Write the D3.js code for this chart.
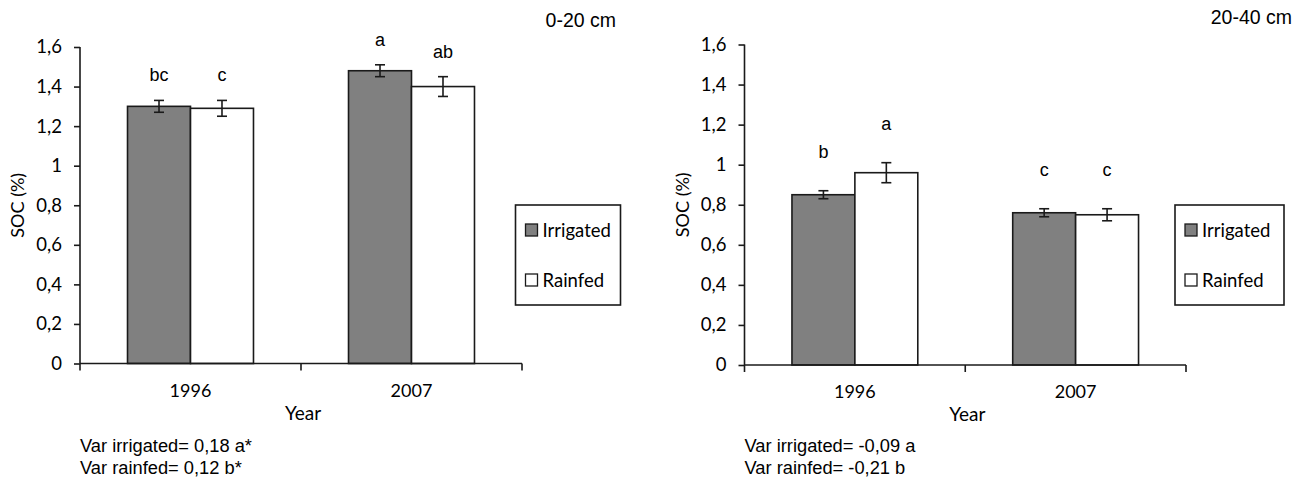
<!DOCTYPE html>
<html>
<head>
<meta charset="utf-8">
<script src="https://cdn.jsdelivr.net/npm/d3@7"></script>
<style>
  body { margin: 0; background: #fff; }
  .cal { font-family: Lato, "Open Sans", sans-serif; }
  .ari { font-family: "Liberation Sans", Arial, sans-serif; }
</style>
</head>
<body>
<svg id="chart" width="1301" height="477"></svg>
<script>
// data
const years = ['1996', '2007'];
const seriesNames = ['Irrigated', 'Rainfed'];
const yTicks = [0, 0.2, 0.4, 0.6, 0.8, 1, 1.2, 1.4, 1.6];

// 0-20 cm
const shallowIrrigated = [1.30, 1.48];
const shallowIrrigatedErr = [0.03, 0.03];
const shallowRainfed = [1.29, 1.40];
const shallowRainfedErr = [0.04, 0.05];
const shallowLetters = [['bc', 'a'], ['c', 'ab']];
const shallowNotes = ['Var irrigated= 0,18 a*', 'Var rainfed= 0,12 b*'];

// 20-40 cm
const deepIrrigated = [0.85, 0.76];
const deepIrrigatedErr = [0.02, 0.02];
const deepRainfed = [0.96, 0.75];
const deepRainfedErr = [0.05, 0.03];
const deepLetters = [['b', 'c'], ['a', 'c']];
const deepNotes = ['Var irrigated= -0,09 a', 'Var rainfed= -0,21 b'];

const svg = d3.select('#chart');
const fmt = v => String(v).replace('.', ',');
const ink = '#1a1a1a';

function panel(opt) {
  const g = svg.append('g');
  const x = d3.scaleBand().domain(years).range([opt.left, opt.right])
    .paddingInner(0.43).paddingOuter(0.215);
  const xs = d3.scaleBand().domain(seriesNames).range([0, x.bandwidth()]);
  const y = d3.scaleLinear().domain([0, 1.6]).range([opt.bottom, opt.top]);

  const rows = [];
  years.forEach((yr, i) => {
    rows.push({ yr: yr, s: 'Irrigated', v: opt.irr[i], e: opt.irrErr[i], l: opt.letters[0][i] });
    rows.push({ yr: yr, s: 'Rainfed', v: opt.rain[i], e: opt.rainErr[i], l: opt.letters[1][i] });
  });

  g.selectAll('rect.bar').data(rows).enter().append('rect')
    .attr('class', 'bar')
    .attr('x', d => x(d.yr) + xs(d.s))
    .attr('y', d => y(d.v))
    .attr('width', xs.bandwidth())
    .attr('height', d => y(0) - y(d.v))
    .attr('fill', d => d.s === 'Irrigated' ? '#808080' : '#fff')
    .attr('stroke', ink).attr('stroke-width', 1.6);

  // error bars
  const eb = g.selectAll('g.err').data(rows).enter().append('g')
    .attr('transform', d => `translate(${x(d.yr) + xs(d.s) + xs.bandwidth() / 2},0)`);
  eb.append('line').attr('y1', d => y(d.v + d.e)).attr('y2', d => y(d.v - d.e))
    .attr('stroke', ink).attr('stroke-width', 1.6);
  eb.append('line').attr('x1', -5).attr('x2', 5).attr('y1', d => y(d.v + d.e)).attr('y2', d => y(d.v + d.e))
    .attr('stroke', ink).attr('stroke-width', 1.6);
  eb.append('line').attr('x1', -5).attr('x2', 5).attr('y1', d => y(d.v - d.e)).attr('y2', d => y(d.v - d.e))
    .attr('stroke', ink).attr('stroke-width', 1.6);
  eb.append('text').attr('class', 'ari')
    .attr('y', d => y(d.v + d.e) - opt.letterGap)
    .attr('text-anchor', 'middle').attr('font-size', 18).attr('fill', '#000')
    .text(d => d.l);

  // y axis
  const ya = g.append('g').attr('transform', `translate(${opt.left},0)`)
    .call(d3.axisLeft(y).tickValues(yTicks).tickFormat(fmt).tickSize(6).tickPadding(12));
  ya.select('.domain').attr('d', `M0,${opt.top}V${opt.bottom}`);
  ya.selectAll('line, path').attr('stroke', ink).attr('stroke-width', 1.6);
  ya.selectAll('text').attr('class', 'cal').attr('font-size', 18.5).attr('fill', '#000');

  // x axis
  const xa = g.append('g').attr('transform', `translate(0,${opt.bottom})`);
  xa.append('line').attr('x1', opt.left).attr('x2', opt.right)
    .attr('stroke', ink).attr('stroke-width', 1.6);
  const edges = [opt.left, ...years.slice(1).map(yr => x(yr) - x.step() * x.paddingInner() / 2), opt.right];
  xa.selectAll('line.tk').data(edges).enter().append('line')
    .attr('x1', d => d).attr('x2', d => d).attr('y1', 0).attr('y2', 7)
    .attr('stroke', ink).attr('stroke-width', 1.6);
  xa.selectAll('text').data(years).enter().append('text').attr('class', 'cal')
    .attr('x', d => x(d) + x.bandwidth() / 2).attr('y', 33)
    .attr('text-anchor', 'middle').attr('font-size', 18).attr('fill', '#000')
    .text(d => d);

  g.append('text').attr('class', 'cal')
    .attr('x', (opt.left + opt.right) / 2 + 2).attr('y', opt.bottom + 56)
    .attr('text-anchor', 'middle').attr('font-size', 19).attr('fill', '#000').text('Year');

  g.append('text').attr('class', 'cal')
    .attr('transform', `translate(${opt.left - 56},${(opt.top + opt.bottom) / 2}) rotate(-90)`)
    .attr('text-anchor', 'middle').attr('font-size', 18).attr('fill', '#000').text('SOC (%)');

  g.append('text').attr('class', 'ari')
    .attr('x', opt.titleRight).attr('y', opt.titleY)
    .attr('text-anchor', 'end').attr('font-size', 19.5).attr('fill', '#000').text(opt.title);

  // legend
  const lg = g.append('g').attr('transform', `translate(${opt.legX},205)`);
  lg.append('rect').attr('width', opt.legW).attr('height', 100)
    .attr('fill', '#fff').attr('stroke', ink).attr('stroke-width', 1.6);
  seriesNames.forEach((s, i) => {
    lg.append('rect').attr('x', 10).attr('y', 19 + i * 50).attr('width', 12).attr('height', 12)
      .attr('fill', s === 'Irrigated' ? '#808080' : '#fff').attr('stroke', ink).attr('stroke-width', 1.3);
    lg.append('text').attr('class', 'cal').attr('x', 27).attr('y', 32 + i * 50)
      .attr('font-size', 18.5).attr('fill', '#000').text(s);
  });

  // notes
  g.selectAll('text.note').data(opt.notes).enter().append('text')
    .attr('class', 'ari note')
    .attr('x', opt.left).attr('y', (d, i) => 451.5 + i * 22.7)
    .attr('font-size', 18.3).attr('fill', '#000').text(d => d);
}

panel({
  left: 80, right: 522, top: 47, bottom: 363.5,
  irr: shallowIrrigated, irrErr: shallowIrrigatedErr,
  rain: shallowRainfed, rainErr: shallowRainfedErr,
  letters: shallowLetters, letterGap: 19, notes: shallowNotes,
  title: '0-20 cm', titleRight: 616, titleY: 27,
  legX: 515.5, legW: 105
});

panel({
  left: 744.5, right: 1186, top: 44.5, bottom: 365,
  irr: deepIrrigated, irrErr: deepIrrigatedErr,
  rain: deepRainfed, rainErr: deepRainfedErr,
  letters: deepLetters, letterGap: 33, notes: deepNotes,
  title: '20-40 cm', titleRight: 1292, titleY: 24,
  legX: 1175, legW: 109
});
</script>
</body>
</html>
